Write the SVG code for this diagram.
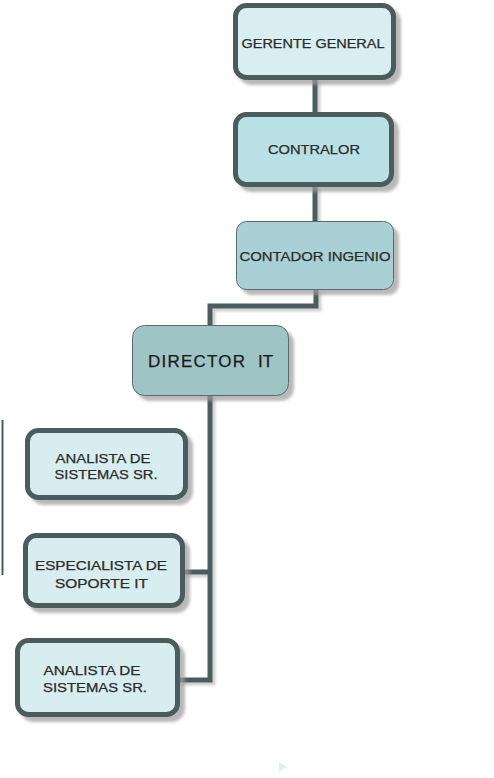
<svg xmlns="http://www.w3.org/2000/svg" width="494" height="778" viewBox="0 0 494 778">
<defs>
<filter id="sh" x="-20%" y="-20%" width="140%" height="150%">
<feDropShadow dx="5" dy="5" stdDeviation="1.5" flood-color="#9a9a9a" flood-opacity="0.7"/>
</filter>
<filter id="lsh" x="-20%" y="-20%" width="140%" height="150%">
<feDropShadow dx="3" dy="3" stdDeviation="1" flood-color="#a0a0a0" flood-opacity="0.5"/>
</filter>
</defs>
<style>
.thick{stroke:#4b5b5b;stroke-width:5}
.thin{stroke:#5a6a6a;stroke-width:1}
.t{font-family:"Liberation Sans",Arial,sans-serif;fill:#2b2b2b;stroke:#2b2b2b;stroke-width:0.25;text-anchor:middle}
.c{fill:none;stroke:#4b5b5b;stroke-width:5}
</style>
<rect width="494" height="778" fill="#ffffff"/>
<g id="connectors" filter="url(#lsh)">
<line class="c" x1="315" y1="78" x2="315" y2="115"/>
<line class="c" x1="315" y1="185" x2="315" y2="222"/>
<path class="c" d="M316 289 V306 H210 V326"/>
<path class="c" d="M210 395 V680 H178"/>
<line class="c" x1="183" y1="572" x2="210" y2="572"/>
</g>
<line x1="2.5" y1="420" x2="2.5" y2="575" stroke="#4b5b5b" stroke-width="2"/>
<g id="gerente">
<rect x="235.5" y="5.5" width="158" height="72" rx="11" fill="#d9eef1" class="thick" filter="url(#sh)"/>
<text class="t" x="313" y="48" font-size="12" textLength="143" lengthAdjust="spacingAndGlyphs">GERENTE GENERAL</text>
</g>
<g id="contralor">
<rect x="235.5" y="114.5" width="156" height="70" rx="11" fill="#b9e1e5" class="thick" filter="url(#sh)"/>
<text class="t" x="314" y="154" font-size="12" textLength="92" lengthAdjust="spacingAndGlyphs">CONTRALOR</text>
</g>
<g id="contador">
<rect x="236.5" y="221.5" width="157" height="68" rx="10" fill="#a9d0d4" class="thin" filter="url(#sh)"/>
<text class="t" x="315" y="261" font-size="12.5" textLength="151" lengthAdjust="spacingAndGlyphs">CONTADOR INGENIO</text>
</g>
<g id="director">
<rect x="132.5" y="325.5" width="156" height="70" rx="12" fill="#9fc4c6" class="thin" filter="url(#sh)"/>
<text class="t" x="211.5" y="367" font-size="17" style="text-anchor:start;fill:#1a1a1a;stroke:#1a1a1a"><tspan x="148" textLength="97" lengthAdjust="spacing">DIRECTOR</tspan><tspan x="258">IT</tspan></text>
</g>
<g id="analista1">
<rect x="27.5" y="430.5" width="158" height="67" rx="11" fill="#d7edf0" class="thick" filter="url(#sh)"/>
<text class="t" x="103" y="463" font-size="12" textLength="95" lengthAdjust="spacingAndGlyphs">ANALISTA DE</text>
<text class="t" x="106" y="479" font-size="12" textLength="103" lengthAdjust="spacingAndGlyphs">SISTEMAS SR.</text>
</g>
<g id="especialista">
<rect x="25.5" y="535.5" width="157" height="70" rx="11" fill="#d7edf0" class="thick" filter="url(#sh)"/>
<text class="t" x="101" y="570" font-size="12" textLength="132" lengthAdjust="spacingAndGlyphs">ESPECIALISTA  DE</text>
<text class="t" x="101.5" y="588" font-size="12" textLength="93" lengthAdjust="spacingAndGlyphs">SOPORTE IT</text>
</g>
<g id="analista2">
<rect x="17.5" y="640.5" width="160" height="74" rx="11" fill="#d7edf0" class="thick" filter="url(#sh)"/>
<text class="t" x="92" y="675" font-size="12" textLength="97" lengthAdjust="spacingAndGlyphs">ANALISTA DE</text>
<text class="t" x="95" y="692" font-size="12" textLength="104" lengthAdjust="spacingAndGlyphs">SISTEMAS SR.</text>
</g>
<polygon points="279,762 287,767 279,772" fill="#d4ecef" opacity="0.8"/>
</svg>
